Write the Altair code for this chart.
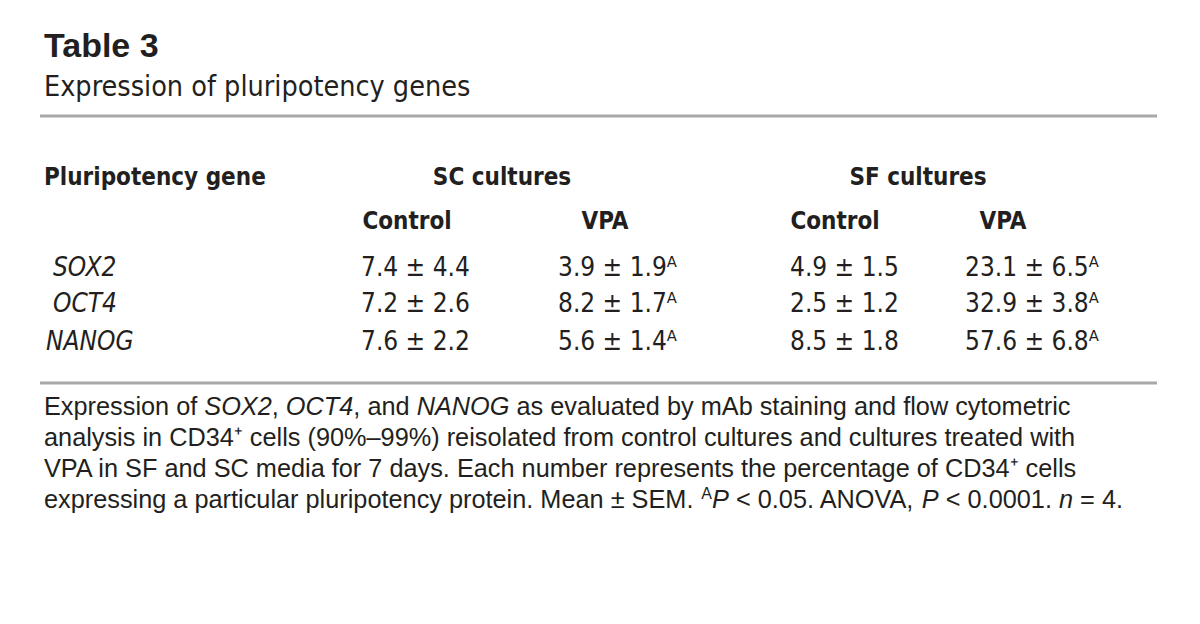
import altair as alt
import pandas as pd

# ---------------- content ----------------
title = "Table 3"
subtitle = "Expression of pluripotency genes"
row_header = "Pluripotency gene"
groups = ["SC cultures", "SF cultures"]
treatments = ["Control", "VPA", "Control", "VPA"]
genes = ["SOX2", "OCT4", "NANOG"]
sc_control = ["7.4 ± 4.4", "7.2 ± 2.6", "7.6 ± 2.2"]
sc_vpa = ["3.9 ± 1.9", "8.2 ± 1.7", "5.6 ± 1.4"]
sf_control = ["4.9 ± 1.5", "2.5 ± 1.2", "8.5 ± 1.8"]
sf_vpa = ["23.1 ± 6.5", "32.9 ± 3.8", "57.6 ± 6.8"]
sig_sc_vpa = [True, True, True]
sig_sf_vpa = [True, True, True]
sig_mark = "ᴬ"

# footnote runs: (text, style) with style in {"r": regular, "i": italic, "s": superscript}
foot_line1 = [("Expression of ", "r"), ("SOX2", "i"), (", ", "r"), ("OCT4", "i"),
              (", and ", "r"), ("NANOG", "i"),
              (" as evaluated by mAb staining and flow cytometric", "r")]
foot_line2 = [("analysis in CD34⁺ cells (90%–99%) reisolated from control cultures and cultures treated with", "r")]
foot_line3 = [("VPA in SF and SC media for 7 days. Each number represents the percentage of CD34⁺ cells", "r")]
foot_line4 = [("expressing a particular pluripotency protein. Mean ± SEM. ", "r"), ("A", "s"), ("P", "i"),
              (" < 0.05. ANOVA, ", "r"), ("P", "i"), (" < 0.0001. ", "r"), ("n", "i"), (" = 4.", "r")]

# ---------------- layout (page pixels) ----------------
W, H = 1184, 608
OFF = 8
xs = alt.Scale(domain=[OFF, OFF + W], range=[0, W], nice=False, zero=False)
ys = alt.Scale(domain=[OFF, OFF + H], range=[0, H], nice=False, zero=False)

NARROW = "DejaVu Sans Condensed, sans-serif"
SANS = "Liberation Sans, Arial, Helvetica, sans-serif"
INK = "#231f20"
FOOT_SIZE = 25.3
SUP_SIZE = 16

# Arial / Liberation Sans advance widths (per 1000 em) used to flow the footnote runs
_w = {" ": 278, "%": 889, "(": 333, ")": 333, ",": 278, "-": 333, ".": 278, "<": 584, "=": 584,
      "±": 584, "–": 556, "⁺": 350}
for ch in "0123456789":
    _w[ch] = 556
_w.update(dict(zip("ABCDEFGHIJKLMNOPQRSTUVWXYZ",
                   [667, 667, 722, 722, 667, 611, 778, 722, 278, 500, 667, 556, 833, 722, 778,
                    667, 778, 722, 667, 611, 722, 667, 944, 667, 667, 611])))
_w.update(dict(zip("abcdefghijklmnopqrstuvwxyz",
                   [556, 556, 500, 556, 556, 278, 556, 556, 222, 222, 500, 222, 833, 556, 556,
                    556, 556, 333, 500, 278, 556, 500, 722, 500, 500, 500])))
_kern = {"AV": -74, "VA": -74}


def text_width(s, size):
    units = sum(_w.get(c, 556) for c in s)
    units += sum(_kern.get(s[i:i + 2], 0) for i in range(len(s) - 1))
    return units * size / 1000.0


foot_left = 44
foot_y = [415, 446, 477, 508]
col_x = [361, 558, 790, 965]
col_center = [407, 605, 835, 1003]
group_center = [502, 918]
hdr_y = [185, 229]
row_y = [276, 312, 350]
gene_x = [53, 53, 46]


def text_layer(df, font, size, weight="normal", style="normal", align="left"):
    return alt.Chart(df).mark_text(
        font=font, fontSize=size, fontWeight=weight, fontStyle=style,
        align=align, baseline="alphabetic", color=INK,
    ).encode(
        x=alt.X("x:Q", scale=xs, axis=None),
        y=alt.Y("y:Q", scale=ys, axis=None),
        text="t:N",
    )


# title / subtitle
title_df = pd.DataFrame({"x": [44], "y": [57], "t": [title]})
sub_df = pd.DataFrame({"x": [44], "y": [96], "t": [subtitle]})

# headers
hdr_left_df = pd.DataFrame({"x": [44], "y": [hdr_y[0]], "t": [row_header]})
hdr_center_df = pd.DataFrame({
    "x": group_center + col_center,
    "y": [hdr_y[0]] * len(groups) + [hdr_y[1]] * len(treatments),
    "t": groups + treatments,
})

# body cells
cols = [sc_control, sc_vpa, sf_control, sf_vpa]
sigs = [[False] * 3, sig_sc_vpa, [False] * 3, sig_sf_vpa]
cell_rows = []
for ci, (vals, sg) in enumerate(zip(cols, sigs)):
    for ri, v in enumerate(vals):
        cell_rows.append({"x": col_x[ci], "y": row_y[ri], "t": v + (sig_mark if sg[ri] else "")})
cells_df = pd.DataFrame(cell_rows)
genes_df = pd.DataFrame({"x": gene_x, "y": row_y, "t": genes})

# footnote: flow runs left to right
runs = {"r": [], "i": [], "s": []}
for li, line in enumerate([foot_line1, foot_line2, foot_line3, foot_line4]):
    x = foot_left
    for txt, st in line:
        size = SUP_SIZE if st == "s" else FOOT_SIZE
        lead = len(txt) - len(txt.lstrip(" "))
        x_txt = x + text_width(" " * lead, size)
        y = foot_y[li] - (9.5 if st == "s" else 0)
        runs[st].append({"x": x_txt, "y": y, "t": txt.strip(" ")})
        x += text_width(txt, size)
foot_reg_df = pd.DataFrame(runs["r"])
foot_it_df = pd.DataFrame(runs["i"])
foot_sup_df = pd.DataFrame(runs["s"])

# rules
rules_df = pd.DataFrame({"x": [40, 40], "x2": [1157, 1157], "y": [116, 383]})
rules = alt.Chart(rules_df).mark_rule(strokeWidth=3, color="#a8a8a8").encode(
    x=alt.X("x:Q", scale=xs, axis=None),
    x2="x2:Q",
    y=alt.Y("y:Q", scale=ys, axis=None),
)

chart = alt.layer(
    rules,
    text_layer(title_df, SANS, 34, weight="bold"),
    text_layer(sub_df, NARROW, 28.5),
    text_layer(hdr_left_df, NARROW, 24, weight="bold"),
    text_layer(hdr_center_df, NARROW, 24, weight="bold", align="center"),
    text_layer(genes_df, NARROW, 26, style="italic"),
    text_layer(cells_df, NARROW, 26),
    text_layer(foot_reg_df, SANS, FOOT_SIZE),
    text_layer(foot_it_df, SANS, FOOT_SIZE, style="italic"),
    text_layer(foot_sup_df, SANS, SUP_SIZE),
).properties(
    width=W, height=H, padding=0, autosize="none", background="white"
).configure_view(stroke=None)

chart.save("out.html", embed_options={"renderer": "svg", "actions": False})
